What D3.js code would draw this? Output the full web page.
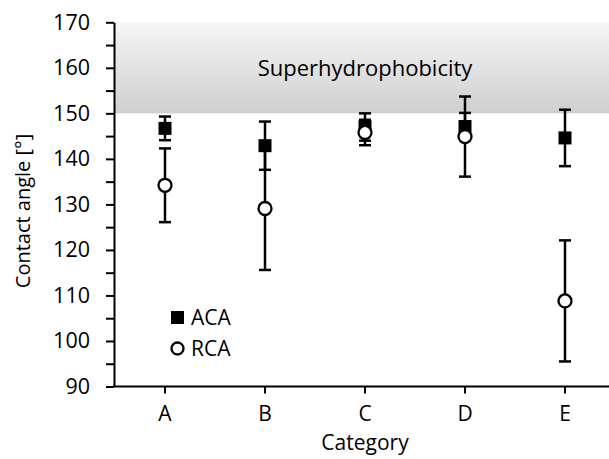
<!DOCTYPE html>
<html>
<head>
<meta charset="utf-8">
<script src="https://cdn.jsdelivr.net/npm/d3@7"></script>
<style>
  html, body { margin: 0; padding: 0; background: #fff; }
  svg text { font-family: "Open Sans", "Liberation Sans", sans-serif; fill: #000; }
</style>
</head>
<body>
<svg id="chart" width="609" height="459"></svg>
<script>
const categories = ["A", "B", "C", "D", "E"];
const acaMean = [146.7, 142.9, 147.0, 147.1, 144.6];
const acaErr  = [2.6, 5.3, 3.0, 3.0, 6.2];
const rcaMean = [134.2, 129.1, 145.8, 144.9, 108.8];
const rcaErr  = [8.1, 13.5, 2.8, 8.8, 13.3];
const yTickValues = [90, 100, 110, 120, 130, 140, 150, 160, 170];
const yMinorValues = [95, 105, 115, 125, 135, 145, 155, 165];
const bandRange = [150, 170];
const bandLabel = "Superhydrophobicity";
const seriesNames = ["ACA", "RCA"];
const yTitle = "Contact angle [°]";
const xTitle = "Category";

const svg = d3.select("#chart");
const x = d3.scaleBand().domain(categories).range([115, 615]);
const y = d3.scaleLinear().domain([90, 170]).range([386.5, 22.3]);
const cx = c => x(c) + x.bandwidth() / 2;
const FONT = "\"Open Sans\", \"Liberation Sans\", sans-serif";

// gradient band
const defs = svg.append("defs");
const grad = defs.append("linearGradient").attr("id", "bandGrad")
  .attr("x1", 0).attr("y1", 0).attr("x2", 0).attr("y2", 1);
grad.append("stop").attr("offset", "0%").attr("stop-color", "#f6f6f6");
grad.append("stop").attr("offset", "100%").attr("stop-color", "#cfcfcf");

svg.append("rect")
  .attr("x", 115).attr("y", y(bandRange[1]))
  .attr("width", 609 - 115).attr("height", y(bandRange[0]) - y(bandRange[1]))
  .attr("fill", "url(#bandGrad)");

svg.append("text")
  .attr("x", 365).attr("y", 76)
  .attr("text-anchor", "middle")
  .style("font-size", "22px")
  .text(bandLabel);

// y axis
const yAxis = d3.axisLeft(y)
  .tickValues(yTickValues.concat(yMinorValues).sort((a, b) => a - b))
  .tickSize(8).tickSizeOuter(0).tickPadding(16)
  .tickFormat(d => yTickValues.includes(d) ? d : "");
const gy = svg.append("g").attr("transform", "translate(114,0)").call(yAxis);
gy.selectAll("path, line").attr("stroke", "#000").attr("stroke-width", 2);
gy.selectAll("text").style("font-size", "21.5px").style("font-family", FONT).attr("fill", "#000");

// x axis
const xAxis = d3.axisBottom(x).tickSize(7).tickSizeOuter(0).tickPadding(12.5);
const gx = svg.append("g").attr("transform", `translate(0,${y(90)})`).call(xAxis);
gx.select("path.domain").attr("d", `M113,0H609`);
gx.selectAll("path, line").attr("stroke", "#000").attr("stroke-width", 2);
gx.selectAll("text").style("font-size", "21px").style("font-family", FONT).attr("fill", "#000");

// axis titles
svg.append("text")
  .attr("transform", `translate(30,211) rotate(-90)`)
  .attr("text-anchor", "middle")
  .style("font-size", "20px")
  .text(yTitle);
svg.append("text")
  .attr("x", 365).attr("y", 450)
  .attr("text-anchor", "middle")
  .style("font-size", "21px")
  .text(xTitle);

// error bars
function errorBars(means, errs, cls) {
  const g = svg.append("g").attr("class", cls)
    .attr("stroke", "#000").attr("stroke-width", 2.5).attr("fill", "none");
  categories.forEach((c, i) => {
    const top = y(means[i] + errs[i]), bot = y(means[i] - errs[i]);
    g.append("line").attr("x1", cx(c)).attr("x2", cx(c)).attr("y1", top).attr("y2", bot);
    g.append("line").attr("x1", cx(c) - 6).attr("x2", cx(c) + 6).attr("y1", top).attr("y2", top);
    g.append("line").attr("x1", cx(c) - 6).attr("x2", cx(c) + 6).attr("y1", bot).attr("y2", bot);
  });
}
errorBars(acaMean, acaErr, "aca-err");
errorBars(rcaMean, rcaErr, "rca-err");

// markers
svg.append("g").selectAll("rect").data(categories).join("rect")
  .attr("x", (c) => cx(c) - 6.5)
  .attr("y", (c, i) => y(acaMean[i]) - 6.5)
  .attr("width", 13).attr("height", 13).attr("fill", "#000");
svg.append("g").selectAll("circle").data(categories).join("circle")
  .attr("cx", c => cx(c))
  .attr("cy", (c, i) => y(rcaMean[i]))
  .attr("r", 6.5).attr("fill", "#fff").attr("stroke", "#000").attr("stroke-width", 2.3);

// legend
const lg = svg.append("g");
lg.append("rect").attr("x", 171).attr("y", 311).attr("width", 13).attr("height", 13).attr("fill", "#000");
lg.append("circle").attr("cx", 177.5).attr("cy", 348.5).attr("r", 6).attr("fill", "#fff").attr("stroke", "#000").attr("stroke-width", 2.3);
lg.append("text").attr("x", 191).attr("y", 325).style("font-size", "21px").text(seriesNames[0]);
lg.append("text").attr("x", 191).attr("y", 356).style("font-size", "21px").text(seriesNames[1]);
</script>
</body>
</html>
